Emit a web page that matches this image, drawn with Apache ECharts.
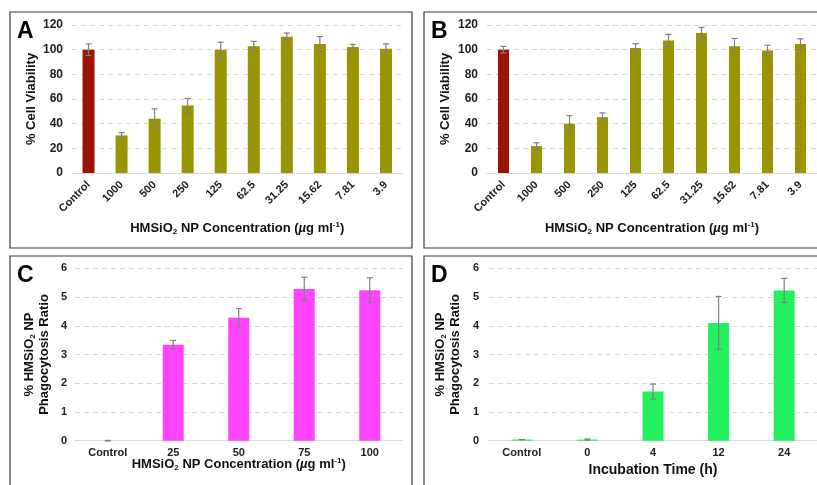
<!DOCTYPE html>
<html>
<head>
<meta charset="utf-8">
<script src="https://cdn.jsdelivr.net/npm/echarts@6/dist/echarts.min.js"></script>
<style>
  html, body { margin: 0; padding: 0; background: #fff; }
  #chart { width: 817px; height: 485px; }
</style>
</head>
<body>
<div id="chart"></div>
<script>
// categories
const catsAB = ['Control', '1000', '500', '250', '125', '62.5', '31.25', '15.62', '7.81', '3.9'];
const catsC = ['Control', '25', '50', '75', '100'];
const catsD = ['Control', '0', '4', '12', '24'];

// % cell viability (A, B) with error
const viabA = [100, 30.5, 44, 54.7, 100, 102.7, 110.5, 104.6, 102.2, 100.7];
const errA = [4.7, 2.2, 8, 5.7, 6, 4, 3, 6, 2, 4];
const viabB = [100, 21.8, 40, 45.3, 101.4, 107.4, 113.5, 102.8, 99.3, 104.6];
const errB = [2.7, 2.7, 6.5, 3.4, 3.5, 5, 4.5, 6.3, 4.3, 4.2];

// phagocytosis ratio (C, D) with error
const phagC = [0, 3.34, 4.28, 5.28, 5.24];
const errC = [0.01, 0.15, 0.32, 0.41, 0.43];
const phagD = [0.04, 0.04, 1.71, 4.1, 5.23];
const errD = [0, 0.02, 0.26, 0.92, 0.42];

const RED = '#9b1400';
const OLIVE = '#999400';
const PINK = '#ff44ff';
const GREEN = '#22f05e';
const ERR = '#808080';
const FONT = '"Liberation Sans", Arial, sans-serif';

const richName = {
  b: { fontFamily: FONT, fontWeight: 'bold', fontSize: 13, color: '#111', lineHeight: 15 },
  i: { fontFamily: FONT, fontWeight: 'bold', fontStyle: 'italic', fontSize: 13, color: '#111', lineHeight: 15 },
  sub: { fontFamily: FONT, fontWeight: 'bold', fontSize: 8, color: '#111', lineHeight: 8, padding: [7, 0, 0, 0] },
  sup: { fontFamily: FONT, fontWeight: 'bold', fontSize: 8, color: '#111', lineHeight: 8, padding: [0, 0, 7, 0] }
};
const concName = '{b|HMSiO}{sub|2}{b| NP Concentration (}{i|µ}{b|g ml}{sup|-1}{b|)}';
const phagName = '{b|% HMSiO}{sub|2}{b| NP}\n{b|Phagocytosis Ratio}';

function errSeries(idx, vals, errs) {
  return {
    type: 'custom',
    xAxisIndex: idx,
    yAxisIndex: idx,
    z: 5,
    data: vals.map((v, i) => [i, v - errs[i], v + errs[i]]),
    encode: { x: 0, y: [1, 2] },
    renderItem: function (params, api) {
      const lo = api.coord([api.value(0), api.value(1)]);
      const hi = api.coord([api.value(0), api.value(2)]);
      const w = 3;
      const st = { stroke: ERR, lineWidth: 1.2 };
      return {
        type: 'group',
        children: [
          { type: 'line', shape: { x1: lo[0], y1: lo[1], x2: hi[0], y2: hi[1] }, style: st },
          { type: 'line', shape: { x1: lo[0] - w, y1: lo[1], x2: lo[0] + w, y2: lo[1] }, style: st },
          { type: 'line', shape: { x1: hi[0] - w, y1: hi[1], x2: hi[0] + w, y2: hi[1] }, style: st }
        ]
      };
    }
  };
}

function xAxis(idx, cats, name, opts) {
  return Object.assign({
    type: 'category',
    gridIndex: idx,
    data: cats,
    axisTick: { show: false },
    axisLine: { lineStyle: { color: '#d9d9d9', width: 1 } },
    axisLabel: { fontFamily: FONT, fontWeight: 'bold', fontSize: 11, color: '#222', interval: 0 },
    name: name,
    nameLocation: 'middle',
    nameMoveOverlap: false,
    nameTextStyle: { rich: richName }
  }, opts);
}

function yAxis(idx, max, interval, name, gridColor, opts) {
  return Object.assign({
    type: 'value',
    gridIndex: idx,
    min: 0,
    max: max,
    interval: interval,
    axisLine: { show: false },
    axisTick: { show: false },
    axisLabel: { fontFamily: FONT, fontWeight: 'bold', fontSize: 12, color: '#222' },
    splitLine: { lineStyle: { color: gridColor, type: [5, 4], width: 1 } },
    name: name,
    nameLocation: 'middle',
    nameRotate: 90,
    nameMoveOverlap: false,
    nameTextStyle: { rich: richName }
  }, opts);
}

function panelBox(x, y, w, h, letter) {
  return [
    { type: 'rect', shape: { x: x, y: y, width: w, height: h }, style: { fill: 'none', stroke: '#3a3a3a', lineWidth: 1.2 }, z: 100 },
    { type: 'text', x: x + 7, y: y + 8, style: { text: letter, font: 'bold 23px ' + FONT, fill: '#000' }, z: 100 }
  ];
}

const chart = echarts.init(document.getElementById('chart'), null, { renderer: 'canvas' });
chart.setOption({
  animation: false,
  backgroundColor: '#fff',
  graphic: [].concat(
    panelBox(10, 12, 402, 236, 'A'),
    panelBox(424, 12, 400, 236, 'B'),
    panelBox(10, 256, 402, 240, 'C'),
    panelBox(424, 256, 400, 240, 'D')
  ),
  grid: [
    { left: 72, right: 414.5, top: 25, height: 148 },
    { left: 487, right: 0, top: 25, height: 148 },
    { left: 75, right: 414.5, top: 268.3, height: 172.4 },
    { left: 489, right: 0, top: 268.3, height: 172.4 }
  ],
  xAxis: [
    xAxis(0, catsAB, concName, { nameGap: 48, axisLabel: { fontFamily: FONT, fontWeight: 'bold', fontSize: 11, color: '#222', interval: 0, rotate: 45, margin: 10 } }),
    xAxis(1, catsAB, concName, { nameGap: 48, axisLabel: { fontFamily: FONT, fontWeight: 'bold', fontSize: 11, color: '#222', interval: 0, rotate: 45, margin: 10 } }),
    xAxis(2, catsC, concName, { nameGap: 16, axisLabel: { fontFamily: FONT, fontWeight: 'bold', fontSize: 11, color: '#222', interval: 0, margin: 7 } }),
    xAxis(3, catsD, '{b|Incubation Time (h)}', {
      nameGap: 22,
      nameTextStyle: { rich: { b: { fontFamily: FONT, fontWeight: 'bold', fontSize: 14, color: '#111' } } },
      axisLabel: { fontFamily: FONT, fontWeight: 'bold', fontSize: 11, color: '#222', interval: 0, margin: 7 }
    })
  ],
  yAxis: [
    yAxis(0, 120, 20, '{b|% Cell Viability}', '#dcdcc6', { nameGap: 33, axisLabel: { fontFamily: FONT, fontWeight: 'bold', fontSize: 12, color: '#222', margin: 9 } }),
    yAxis(1, 120, 20, '{b|% Cell Viability}', '#d4d4d4', { nameGap: 34, axisLabel: { fontFamily: FONT, fontWeight: 'bold', fontSize: 12, color: '#222', margin: 9 } }),
    yAxis(2, 6, 1, phagName, '#d4d4d4', { nameGap: 23, axisLabel: { fontFamily: FONT, fontWeight: 'bold', fontSize: 11, color: '#222', margin: 8 } }),
    yAxis(3, 6, 1, phagName, '#dcdcc6', { nameGap: 26, axisLabel: { fontFamily: FONT, fontWeight: 'bold', fontSize: 11, color: '#222', margin: 10 } })
  ],
  series: [
    {
      type: 'bar', xAxisIndex: 0, yAxisIndex: 0, barWidth: 12, data: viabA,
      itemStyle: { color: p => p.dataIndex === 0 ? RED : OLIVE }
    },
    errSeries(0, viabA, errA),
    {
      type: 'bar', xAxisIndex: 1, yAxisIndex: 1, barWidth: 11, data: viabB,
      itemStyle: { color: p => p.dataIndex === 0 ? RED : OLIVE }
    },
    errSeries(1, viabB, errB),
    { type: 'bar', xAxisIndex: 2, yAxisIndex: 2, barWidth: 21, data: phagC, itemStyle: { color: PINK } },
    errSeries(2, phagC, errC),
    { type: 'bar', xAxisIndex: 3, yAxisIndex: 3, barWidth: 21, data: phagD, itemStyle: { color: GREEN } },
    errSeries(3, phagD, errD)
  ]
});
</script>
</body>
</html>
